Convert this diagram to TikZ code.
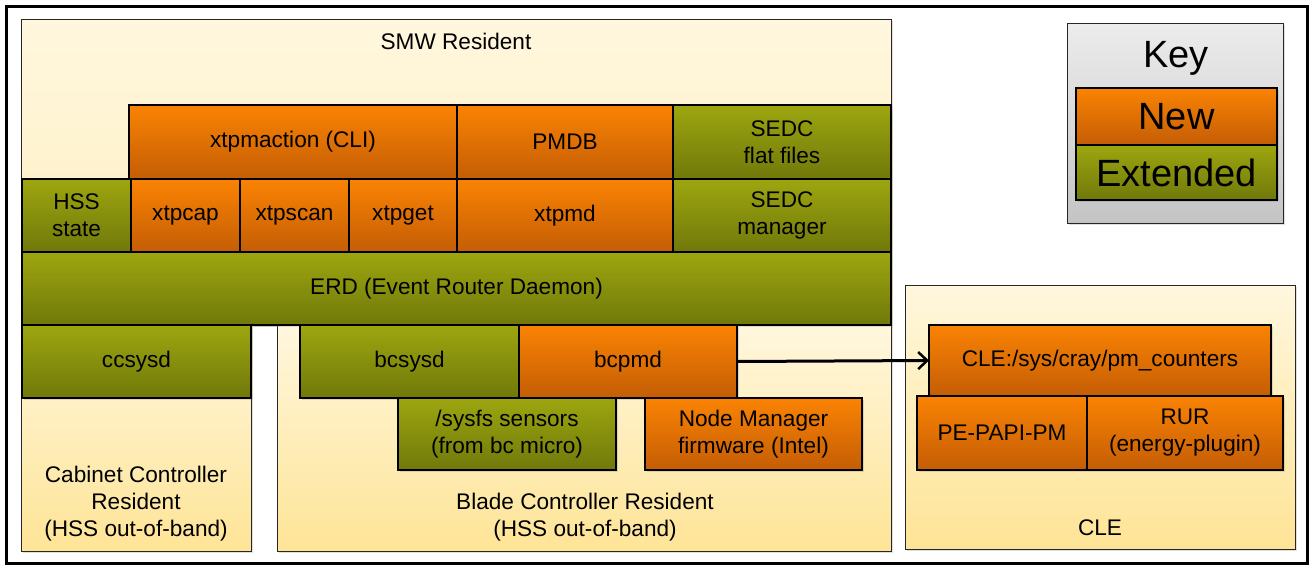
\documentclass[tikz,border=0pt]{standalone}
\usepackage{fontspec}
\setmainfont{Liberation Sans}
\usetikzlibrary{arrows.meta,shadows}

\definecolor{orTop}{RGB}{250,131,3}
\definecolor{orBot}{RGB}{196,93,5}
\definecolor{grTop}{RGB}{157,166,15}
\definecolor{grBot}{RGB}{112,121,10}
\definecolor{pnTop}{RGB}{255,247,222}
\definecolor{pnBot}{RGB}{254,228,150}
\definecolor{smwBot}{RGB}{254,238,190}
\definecolor{keyTop}{RGB}{236,236,236}
\definecolor{keyBot}{RGB}{196,196,196}

\tikzset{
  txt/.style={font=\fontsize{22.6}{27}\selectfont, align=center, inner sep=0pt},
  blk/.style={txt, draw=black, line width=1.3pt, outer sep=0pt,
    drop shadow={opacity=0.25, shadow xshift=2pt, shadow yshift=-2pt}},
  newbox/.style={blk, top color=orTop, bottom color=orBot},
  extbox/.style={blk, top color=grTop, bottom color=grBot},
  panel/.style={draw=black!85, line width=1pt, inner sep=0pt, outer sep=0pt,
    top color=pnTop, bottom color=pnBot,
    drop shadow={opacity=0.25, shadow xshift=2pt, shadow yshift=-2pt}},
  bigfont/.style={font=\fontsize{38}{42}\selectfont},
  bigtxt/.style={bigfont, inner sep=0pt}
}

\begin{document}
\begin{tikzpicture}[x=1pt,y=-1pt]
\useasboundingbox (0,0) rectangle (1313,565);
\fill[white] (0,0) rectangle (1313,565);
\node[draw=black, line width=3pt, minimum width=1301pt, minimum height=557pt, inner sep=0pt] (frame) at (656.5,284.5) {};

% resident panels
\node[panel, top color=pnTop, bottom color=smwBot, minimum width=870pt, minimum height=306pt] (smw) at (456,172) {};
\node[panel, minimum width=230pt, minimum height=226pt] (cab) at (136,438) {};
\node[panel, minimum width=614pt, minimum height=226pt] (blade) at (584,438) {};
\node[panel, minimum width=390pt, minimum height=264pt] (cle) at (1100,417) {};

\node[txt] (smwlbl) at (456,41) {SMW Resident};
\node[txt] (cablbl) at (136,504) {Cabinet Controller\\Resident\\(HSS out-of-band)};
\node[txt] (bladelbl) at (585,517) {Blade Controller Resident\\(HSS out-of-band)};
\node[txt] (clelbl) at (1100,528) {CLE};

% SMW components
\node[newbox, minimum width=328pt, minimum height=74pt] (xtpmaction) at (293,142) {xtpmaction (CLI)};
\node[newbox, minimum width=216pt, minimum height=74pt] (pmdb) at (565,142) {PMDB};
\node[extbox, minimum width=218pt, minimum height=74pt] (sedcff) at (782,142) {SEDC\\flat files};

\node[extbox, minimum width=109pt, minimum height=73pt] (hss) at (76.5,215.5) {HSS\\state};
\node[newbox, minimum width=109pt, minimum height=73pt] (xtpcap) at (185.5,215.5) {xtpcap};
\node[newbox, minimum width=109pt, minimum height=73pt] (xtpscan) at (294.5,215.5) {xtpscan};
\node[newbox, minimum width=108pt, minimum height=73pt] (xtpget) at (403,215.5) {xtpget};
\node[newbox, minimum width=216pt, minimum height=73pt] (xtpmd) at (565,215.5) {xtpmd};
\node[extbox, minimum width=218pt, minimum height=73pt] (sedcmgr) at (782,215.5) {SEDC\\manager};

\node[extbox, minimum width=869pt, minimum height=73pt] (erd) at (456.5,288.5) {ERD (Event Router Daemon)};

% controller components
\node[extbox, minimum width=229pt, minimum height=73pt] (ccsysd) at (136.5,361.5) {ccsysd};
\node[extbox, minimum width=219pt, minimum height=73pt] (bcsysd) at (409.5,361.5) {bcsysd};
\node[newbox, minimum width=218pt, minimum height=73pt] (bcpmd) at (628,361.5) {bcpmd};
\node[extbox, minimum width=218pt, minimum height=72pt] (sysfs) at (507,434) {/sysfs sensors\\(from bc micro)};
\node[newbox, minimum width=217pt, minimum height=72pt] (nodemgr) at (753.5,434) {Node Manager\\firmware (Intel)};

% CLE components
\node[newbox, minimum width=342pt, minimum height=71pt] (pmc) at (1100,360.5) {CLE:/sys/cray/pm\_counters};
\node[newbox, minimum width=170pt, minimum height=74pt] (papi) at (1002,433) {PE-PAPI-PM};
\node[newbox, minimum width=196pt, minimum height=74pt] (rur) at (1185,433) {RUR\\(energy-plugin)};

\draw[line width=3pt, -{Straight Barb[length=9pt,width=17pt,line width=2.5pt]}] (bcpmd.east) -- (pmc.west);

% key
\node[draw=black!85, line width=1pt, top color=keyTop, bottom color=keyBot, minimum width=216pt, minimum height=200pt, inner sep=0pt,
  drop shadow={opacity=0.25, shadow xshift=2pt, shadow yshift=-2pt}] (key) at (1175,123) {};
\node[bigtxt] (keylbl) at (1176,58) {Key};
\node[newbox, bigfont, minimum width=201pt, minimum height=57pt] (keynew) at (1176.5,116.5) {New};
\node[extbox, bigfont, minimum width=201pt, minimum height=55pt] (keyext) at (1176.5,172.5) {Extended};
\end{tikzpicture}
\end{document}
